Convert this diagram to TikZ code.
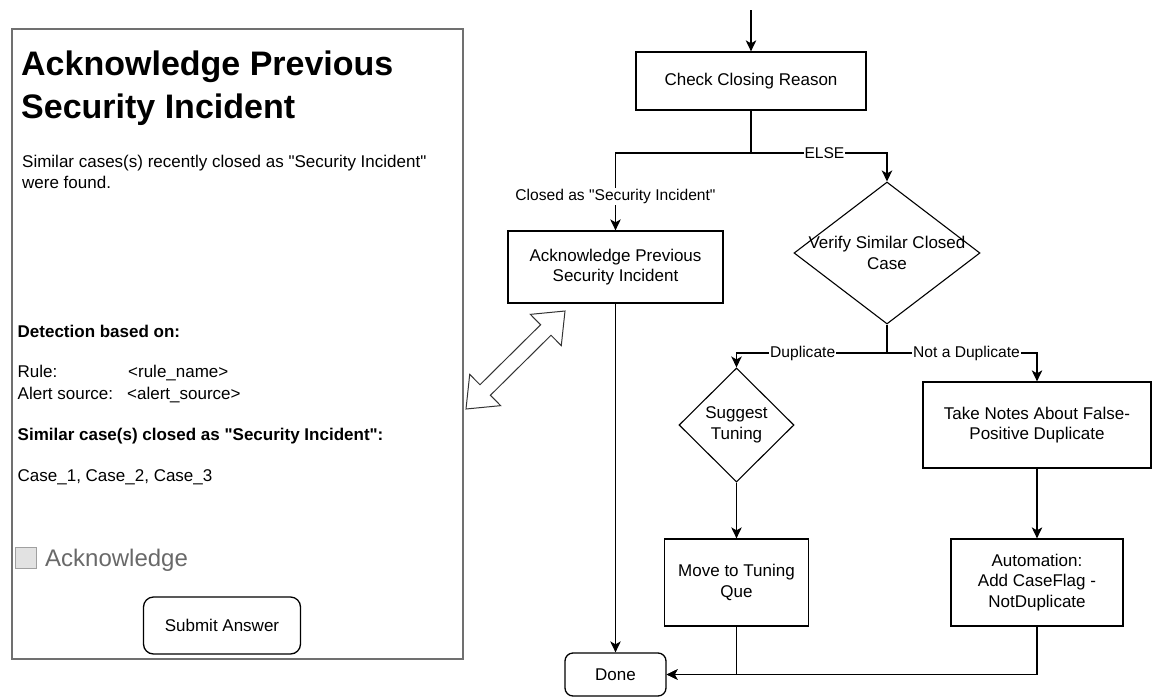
\documentclass[tikz,border=0pt]{standalone}
\usepackage{fontspec}
\setmainfont{Liberation Sans}[Ligatures=TeXOff]
\usetikzlibrary{arrows.meta,shapes.geometric,calc}
\definecolor{panelgray}{RGB}{112,112,112}
\definecolor{boxgray}{RGB}{226,226,226}
\definecolor{boxedge}{RGB}{160,160,160}
\definecolor{labelgray}{RGB}{105,105,105}
\begin{document}
\begin{tikzpicture}[x=1pt,y=-1pt,
  txt/.style={font=\fontsize{17}{20.4}\selectfont},
  ptext/.style={anchor=base west, inner sep=0pt, font=\fontsize{17}{20.4}\selectfont},
  pbold/.style={anchor=base west, inner sep=0pt, font=\fontsize{17}{20.4}\selectfont\bfseries},
  ptitle/.style={anchor=base west, inner sep=0pt, font=\fontsize{34}{41}\selectfont\bfseries},
  flowbox/.style={draw=black, line width=1.3pt, align=center, inner sep=0pt, font=\fontsize{17}{20.4}\selectfont},
  decide/.style={draw=black, line width=1.1pt, diamond, inner sep=0pt},
  conn/.style={line width=1.3pt},
  arr/.style={line width=1.3pt, -{Stealth[length=11pt,width=10.5pt,inset=3pt]}},
  lbl/.style={fill=white, inner sep=1pt, font=\fontsize{15.6}{18}\selectfont},
]
\useasboundingbox (0,0) rectangle (1152,697);

% ---------- form panel ----------
\node[draw=panelgray, line width=2pt, minimum width=451pt, minimum height=630pt,
      inner sep=0pt, anchor=north west] (panel) at (11,28) {};
\node[ptitle] (t1) at (21,75) {Acknowledge Previous};
\node[ptitle] (t2) at (21,118) {Security Incident};
\node[ptext] (s1) at (22,167) {Similar cases(s) recently closed as "Security Incident"};
\node[ptext] (s2) at (22,188) {were found.};
\node[pbold] (det) at (17.5,337) {Detection based on:};
\node[ptext] (rulek) at (17.5,377) {Rule:};
\node[ptext] (rulev) at (128,377) {<rule\_name>};
\node[ptext] (srck) at (17.5,399) {Alert source:};
\node[ptext] (srcv) at (127,399) {<alert\_source>};
\node[pbold] (sim) at (17.5,440) {Similar case(s) closed as "Security Incident":};
\node[ptext] (cases) at (17.5,481) {Case\_1, Case\_2, Case\_3};
\node[draw=boxedge, fill=boxgray, line width=0.8pt, minimum size=21pt, inner sep=0pt,
      anchor=north west] (chk) at (15,547) {};
\node[anchor=base west, inner sep=0pt, text=labelgray, font=\fontsize{24}{28}\selectfont]
      (ackl) at (45,566.5) {Acknowledge};
\node[flowbox, rounded corners=10pt, minimum width=157pt, minimum height=57pt]
      (submit) at (222,625.5) {Submit Answer};

% ---------- hollow double arrow ----------
\coordinate (dA) at (466,409);
\coordinate (dB) at (565,311);
\coordinate (hA) at ($(dA)!27pt!(dB)$);
\coordinate (hB) at ($(dB)!27pt!(dA)$);
\draw[line width=1pt, draw=black!80, fill=white]
  (dB) -- ($(hB)!22pt!90:(dB)$) -- ($(hB)!7.4pt!90:(dB)$)
  -- ($(hA)!7.4pt!-90:(dA)$) -- ($(hA)!22pt!-90:(dA)$)
  -- (dA) -- ($(hA)!22pt!90:(dA)$) -- ($(hA)!7.4pt!90:(dA)$)
  -- ($(hB)!7.4pt!-90:(dB)$) -- ($(hB)!22pt!-90:(dB)$) -- cycle;

% ---------- flowchart ----------
\coordinate (start) at (751,10);
\node[flowbox, minimum width=230pt, minimum height=58pt] (check) at (751,81) {Check Closing Reason};
\node[flowbox, minimum width=215pt, minimum height=72pt] (ack) at (615.5,267) {Acknowledge Previous\\Security Incident};
\node[decide, minimum width=186pt, minimum height=142pt] (verify) at (887,253) {};
\node[txt, align=center] (verifyt) at (verify.center) {Verify Similar Closed\\Case};
\node[decide, minimum width=115pt, minimum height=114pt] (suggest) at (736.5,425) {};
\node[txt, align=center] (suggestt) at (suggest.center) {Suggest\\Tuning};
\node[flowbox, minimum width=144pt, minimum height=87pt] (tuneq) at (736.5,582.5) {Move to Tuning\\Que};
\node[flowbox, minimum width=228pt, minimum height=86pt] (notes) at (1037,425) {Take Notes About False-\\Positive Duplicate};
\node[flowbox, minimum width=172pt, minimum height=87pt] (auto) at (1037,582.5) {Automation:\\Add CaseFlag -\\NotDuplicate};
\node[flowbox, rounded corners=8pt, minimum width=101pt, minimum height=43pt] (done) at (615.5,674.5) {Done};

\coordinate (split1) at (751,153);
\coordinate (split2) at (887,353);

\draw[arr] (start) -- (check.north);
\draw[conn] (check.south) -- (split1);
\draw[arr] (split1) -| node[lbl, pos=0.78] {Closed as "Security Incident"} (ack.north);
\draw[arr] (split1) -| node[lbl, pos=0.27] {ELSE} (verify.north);
\draw[conn] (verify.south) -- (split2);
\draw[arr] (split2) -| node[lbl, pos=0.28] {Duplicate} (suggest.north);
\draw[arr] (split2) -| node[lbl, pos=0.265] {Not a Duplicate} (notes.north);
\draw[arr] (suggest.south) -- (tuneq.north);
\draw[arr] (notes.south) -- (auto.north);
\draw[arr] (ack.south) -- (done.north);
\draw[arr] (tuneq.south) |- (done.east);
\draw[arr] (auto.south) |- (done.east);
\end{tikzpicture}
\end{document}
